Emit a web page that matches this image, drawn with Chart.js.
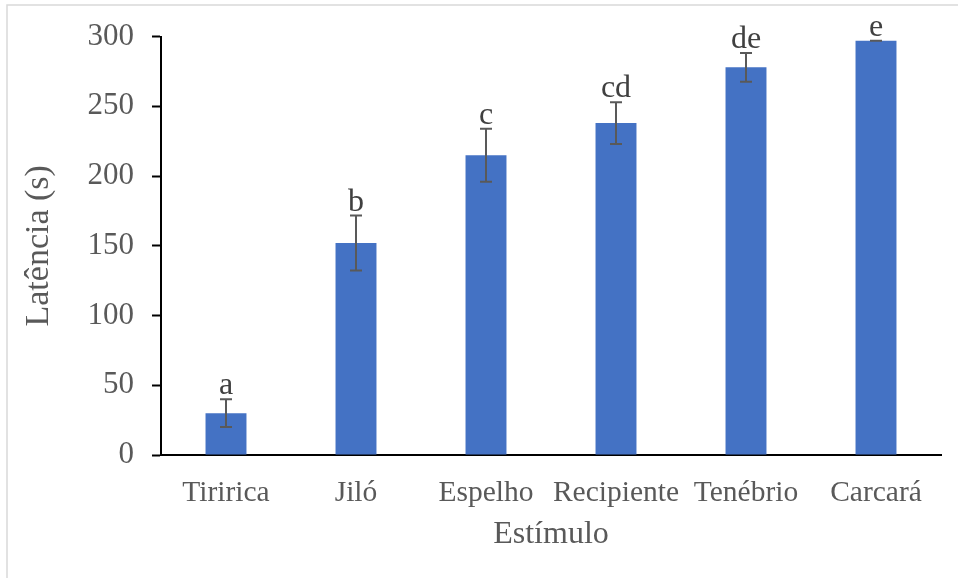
<!DOCTYPE html>
<html>
<head>
<meta charset="utf-8">
<script src="https://cdn.jsdelivr.net/npm/chart.js@4/dist/chart.umd.min.js"></script>
<style>
  html, body { margin: 0; padding: 0; background: #ffffff; }
  #wrap { width: 958px; height: 578px; position: relative; }
</style>
</head>
<body>
<div id="wrap"><canvas id="chart" width="958" height="578"></canvas></div>
<script>
// Latency per stimulus: mean, error, and significance letter
const estimulos = ['Tiririca', 'Jiló', 'Espelho', 'Recipiente', 'Tenébrio', 'Carcará'];
const latencia  = [30, 152, 215, 238, 278, 297];
const erro      = [10, 19.7, 19, 15, 10.3, 0];
const letras    = ['a', 'b', 'c', 'cd', 'de', 'e'];
const yTicks    = [0, 50, 100, 150, 200, 250, 300];

const FONT = '"Liberation Serif", "Times New Roman", Times, serif';
const TEXT = '#595959';

// White background plus the light frame on the left and top edges
const frame = {
  id: 'frame',
  beforeDraw(chart) {
    const ctx = chart.ctx;
    ctx.save();
    ctx.fillStyle = '#ffffff';
    ctx.fillRect(0, 0, chart.width, chart.height);
    ctx.strokeStyle = '#d9d9d9';
    ctx.lineWidth = 1.5;
    ctx.beginPath();
    ctx.moveTo(7, chart.height);
    ctx.lineTo(7, 5);
    ctx.lineTo(chart.width, 5);
    ctx.stroke();
    ctx.restore();
  }
};

// Error bars with caps, and the letters above each one
const errorBars = {
  id: 'errorBars',
  afterDatasetsDraw(chart) {
    const ctx = chart.ctx;
    const y = chart.scales.y;
    const meta = chart.getDatasetMeta(0);
    ctx.save();
    meta.data.forEach((bar, i) => {
      const x = bar.x;
      const top = y.getPixelForValue(latencia[i] + erro[i]);
      const bot = y.getPixelForValue(latencia[i] - erro[i]);
      ctx.strokeStyle = '#595959';
      ctx.lineWidth = 2;
      ctx.beginPath();
      ctx.moveTo(x, top); ctx.lineTo(x, bot);
      ctx.moveTo(x - 6, top); ctx.lineTo(x + 6, top);
      ctx.moveTo(x - 6, bot); ctx.lineTo(x + 6, bot);
      ctx.stroke();
      ctx.fillStyle = '#404040';
      ctx.font = '32px ' + FONT;
      ctx.textAlign = 'center';
      ctx.textBaseline = 'alphabetic';
      ctx.fillText(letras[i], x, top - 5);
    });
    ctx.restore();
  }
};

new Chart(document.getElementById('chart'), {
  type: 'bar',
  data: {
    labels: estimulos,
    datasets: [{
      data: latencia,
      backgroundColor: '#4472C4',
      borderWidth: 0,
      barPercentage: 0.315,
      categoryPercentage: 1
    }]
  },
  options: {
    responsive: false,
    animation: false,
    events: [],
    layout: { padding: { left: 0, right: 17, top: 36, bottom: 0 } },
    plugins: { legend: { display: false }, tooltip: { enabled: false } },
    scales: {
      x: {
        grid: { display: false },
        border: { display: true, color: '#000000', width: 2 },
        ticks: { color: TEXT, font: { family: FONT, size: 29.5 }, padding: 13, maxRotation: 0, autoSkip: false },
        title: { display: true, text: 'Estímulo', color: TEXT, font: { family: FONT, size: 32 }, padding: { bottom: 24 } },
        afterFit(scale) { scale.height = 123; }
      },
      y: {
        min: 0,
        max: 300,
        afterBuildTicks(scale) { scale.ticks = yTicks.map(v => ({ value: v })); },
        grid: { drawOnChartArea: false, drawTicks: true, tickLength: 9, tickWidth: 2, tickColor: '#000000' },
        border: { display: true, color: '#000000', width: 2 },
        ticks: { color: TEXT, font: { family: FONT, size: 31 }, padding: 18 },
        title: { display: true, text: 'Latência (s)', color: TEXT, font: { family: FONT, size: 34 }, padding: { top: 19 } },
        afterFit(scale) { scale.width = 161; }
      }
    }
  },
  plugins: [frame, errorBars]
});
</script>
</body>
</html>
